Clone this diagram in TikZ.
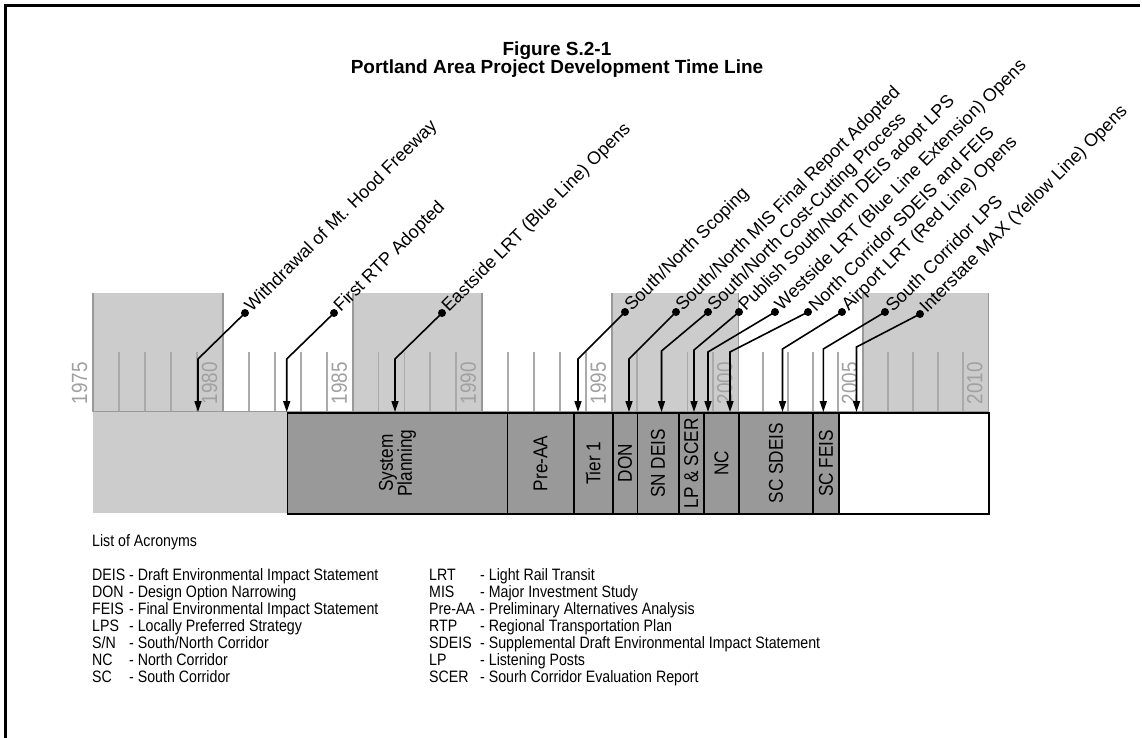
\documentclass[tikz,border=0pt]{standalone}
\usepackage{fontspec}
\setmainfont{Liberation Sans}
\newfontfamily\narrowfont[FakeStretch=0.86]{Liberation Sans}
\usetikzlibrary{arrows.meta}

\definecolor{bandgray}{HTML}{CCCCCC}
\definecolor{tickgray}{HTML}{AAAAAA}
\definecolor{edgegray}{HTML}{999999}
\definecolor{phasegray}{HTML}{999999}
\definecolor{yeargray}{HTML}{A0A0A0}

\tikzset{
  tick/.style={draw=tickgray, line width=1.6pt},
  edge/.style={draw=edgegray, line width=1.6pt},
  yearlabel/.style={rotate=90, text=yeargray, inner sep=0pt,
    font=\narrowfont\fontsize{22}{22}\selectfont},
  phase/.style={draw=black, line width=1.6pt, fill=phasegray, anchor=north west,
    minimum height=101pt, inner sep=0pt},
  phaselabel/.style={rotate=90, align=center,
    font=\narrowfont\fontsize{20}{19}\selectfont},
  event/.style={circle, fill=black, inner sep=0pt, minimum size=8pt},
  eventlabel/.style={rotate=45, anchor=west, inner sep=5pt,
    font=\fontsize{18}{18}\selectfont},
  eventarrow/.style={line width=1.6pt, -{Triangle[length=11pt,width=7pt]}},
  acro/.style={anchor=base west, inner sep=0pt,
    font=\narrowfont\fontsize{16.5}{16.5}\selectfont},
}

\begin{document}
\begin{tikzpicture}[x=1pt,y=-1pt]
  \useasboundingbox (0,0) rectangle (1142,738);

  % Frame
  \draw[line width=3pt] (5,738) -- (5,6) -- (1140,6);

  % Title
  \node[font=\bfseries\fontsize{19}{18}\selectfont, align=center] (title) at (557,60)
    {Figure S.2-1\\Portland Area Project Development Time Line};

  % Year scale
  \fill[bandgray] (93,293) rectangle (223,412);
  \fill[bandgray] (352.7,293) rectangle (481.7,412);
  \fill[bandgray] (611.7,293) rectangle (738.3,412);
  \fill[bandgray] (863,293) rectangle (988.3,412);
  \foreach \a/\b in {93/223, 223/352.7, 352.7/481.7, 481.7/611.7,
                     611.7/738.3, 738.3/863, 863/988.3}
    \foreach \k in {1,...,4}
      \draw[tick] ({\a+\k*(\b-\a)/5},352) -- ++(0,60);
  \foreach \x in {93, 223, 352.7, 481.7, 611.7, 738.3, 863, 988.3}
    \draw[edge] (\x,293) -- (\x,412);
  \draw[edge] (93,412) -- (988.3,412);
  \node[yearlabel] (y1975) at (79.5,383) {1975};
  \node[yearlabel] (y1980) at (209.5,383) {1980};
  \node[yearlabel] (y1985) at (339.2,383) {1985};
  \node[yearlabel] (y1990) at (468.2,383) {1990};
  \node[yearlabel] (y1995) at (598.2,383) {1995};
  \node[yearlabel] (y2000) at (724.8,383) {2000};
  \node[yearlabel] (y2005) at (849.5,383) {2005};
  \node[yearlabel] (y2010) at (974.8,383) {2010};

  % Phases
  \fill[bandgray] (93,412) rectangle (286.7,513);
  \node[phase, minimum width=220pt] (sysplan) at (286.7,412) {};
  \node[phase, minimum width=66.3pt] (preaa) at (506.7,412) {};
  \node[phase, minimum width=39pt] (tierone) at (573,412) {};
  \node[phase, minimum width=24.5pt] (don) at (612,412) {};
  \node[phase, minimum width=41.5pt] (sndeis) at (636.5,412) {};
  \node[phase, minimum width=25pt] (lpscer) at (678,412) {};
  \node[phase, minimum width=35.3pt] (nc) at (703,412) {};
  \node[phase, minimum width=73.7pt] (scsdeis) at (738.3,412) {};
  \node[phase, minimum width=26.3pt] (scfeis) at (812,412) {};
  \node[phase, fill=white, minimum width=150pt] (future) at (838.3,412) {};
  \node[phaselabel] at (sysplan.center) {System\\Planning};
  \node[phaselabel] at (preaa.center) {Pre-AA};
  \node[phaselabel] at (tierone.center) {Tier 1};
  \node[phaselabel] at (don.center) {DON};
  \node[phaselabel] at (sndeis.center) {SN DEIS};
  \node[phaselabel] at (lpscer.center) {LP \& SCER};
  \node[phaselabel] at (nc.center) {NC};
  \node[phaselabel] at (scsdeis.center) {SC SDEIS};
  \node[phaselabel] at (scfeis.center) {SC FEIS};

  % Events
  \node[event] (e1) at (245,313) {};
  \node[event] (e2) at (334,313) {};
  \node[event] (e3) at (442,313) {};
  \node[event] (e4) at (625,312) {};
  \node[event] (e5) at (676,312) {};
  \node[event] (e6) at (708,312) {};
  \node[event] (e7) at (739,312) {};
  \node[event] (e8) at (775,312) {};
  \node[event] (e9) at (808,312) {};
  \node[event] (e10) at (842,312) {};
  \node[event] (e11) at (885,312) {};
  \node[event] (e12) at (920,314) {};
  \node[eventlabel] at (e1) {Withdrawal of Mt. Hood Freeway};
  \node[eventlabel] at (e2) {First RTP Adopted};
  \node[eventlabel] at (e3) {Eastside LRT (Blue Line) Opens};
  \node[eventlabel] at (e4) {South/North Scoping};
  \node[eventlabel] at (e5) {South/North MIS Final Report Adopted};
  \node[eventlabel] at (e6) {South/North Cost-Cutting Process};
  \node[eventlabel] at (e7) {Publish South/North DEIS adopt LPS};
  \node[eventlabel] at (e8) {Westside LRT (Blue Line Extension) Opens};
  \node[eventlabel] at (e9) {North Corridor SDEIS and FEIS};
  \node[eventlabel] at (e10) {Airport LRT (Red Line) Opens};
  \node[eventlabel] at (e11) {South Corridor LPS};
  \node[eventlabel] at (e12) {Interstate MAX (Yellow Line) Opens};
  \coordinate (b1) at (198,359);   \coordinate (t1) at (198,412);
  \coordinate (b2) at (286.7,359); \coordinate (t2) at (286.7,412);
  \coordinate (b3) at (395,359);   \coordinate (t3) at (395,412);
  \coordinate (b4) at (578,359);   \coordinate (t4) at (578,412);
  \coordinate (b5) at (629,359);   \coordinate (t5) at (629,412);
  \coordinate (b6) at (661.5,351); \coordinate (t6) at (661.5,412);
  \coordinate (b7) at (694,350);   \coordinate (t7) at (694,412);
  \coordinate (b8) at (708,352);   \coordinate (t8) at (708,412);
  \coordinate (b9) at (730,352);   \coordinate (t9) at (730,412);
  \coordinate (b10) at (782.5,349); \coordinate (t10) at (782.5,412);
  \coordinate (b11) at (823.3,349); \coordinate (t11) at (823.3,412);
  \coordinate (b12) at (856.5,347); \coordinate (t12) at (856.5,412);
  \draw[eventarrow] (e1.center) -- (b1) -- (t1);
  \draw[eventarrow] (e2.center) -- (b2) -- (t2);
  \draw[eventarrow] (e3.center) -- (b3) -- (t3);
  \draw[eventarrow] (e4.center) -- (b4) -- (t4);
  \draw[eventarrow] (e5.center) -- (b5) -- (t5);
  \draw[eventarrow] (e6.center) -- (b6) -- (t6);
  \draw[eventarrow] (e7.center) -- (b7) -- (t7);
  \draw[eventarrow] (e8.center) -- (b8) -- (t8);
  \draw[eventarrow] (e9.center) -- (b9) -- (t9);
  \draw[eventarrow] (e10.center) -- (b10) -- (t10);
  \draw[eventarrow] (e11.center) -- (b11) -- (t11);
  \draw[eventarrow] (e12.center) -- (b12) -- (t12);

  % List of acronyms
  \node[acro] (acrohead) at (92,546) {List of Acronyms};
  \node[acro] (deis) at (92,580) {DEIS};    \node[acro] at (129,580) {- Draft Environmental Impact Statement};
  \node[acro] (don) at (92,597) {DON};      \node[acro] at (129,597) {- Design Option Narrowing};
  \node[acro] (feis) at (92,614) {FEIS};    \node[acro] at (129,614) {- Final Environmental Impact Statement};
  \node[acro] (lps) at (92,631) {LPS};      \node[acro] at (129,631) {- Locally Preferred Strategy};
  \node[acro] (sn) at (92,648) {S/N};       \node[acro] at (129,648) {- South/North Corridor};
  \node[acro] (ncor) at (92,665) {NC};      \node[acro] at (129,665) {- North Corridor};
  \node[acro] (scor) at (92,682) {SC};      \node[acro] at (129,682) {- South Corridor};
  \node[acro] (lrt) at (429,580) {LRT};     \node[acro] at (480,580) {- Light Rail Transit};
  \node[acro] (mis) at (429,597) {MIS};     \node[acro] at (480,597) {- Major Investment Study};
  \node[acro] (praa) at (429,614) {Pre-AA}; \node[acro] at (480,614) {- Preliminary Alternatives Analysis};
  \node[acro] (rtp) at (429,631) {RTP};     \node[acro] at (480,631) {- Regional Transportation Plan};
  \node[acro] (sdeis) at (429,648) {SDEIS}; \node[acro] at (480,648) {- Supplemental Draft Environmental Impact Statement};
  \node[acro] (lp) at (429,665) {LP};       \node[acro] at (480,665) {- Listening Posts};
  \node[acro] (scer) at (429,682) {SCER};   \node[acro] at (480,682) {- Sourh Corridor Evaluation Report};
\end{tikzpicture}
\end{document}
